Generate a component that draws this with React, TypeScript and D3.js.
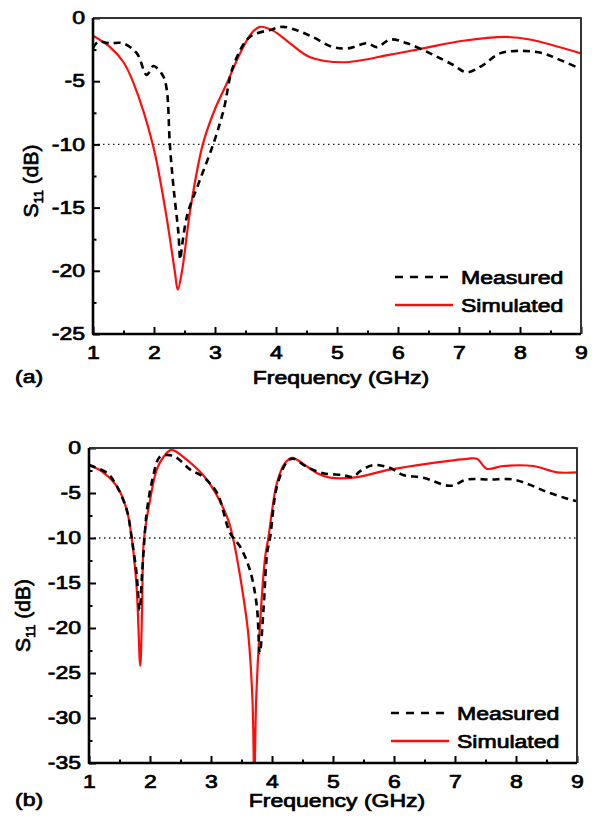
import React, { useEffect, useRef } from 'react';
import * as d3 from 'd3';

// (a) measured / simulated S11 curves
const measFreqA = [1, 1.08, 1.28, 1.49, 1.72, 1.88, 1.99, 2.15, 2.21, 2.26, 2.32, 2.4, 2.43, 2.46, 2.55, 2.73, 2.97, 3.14, 3.3, 3.57, 3.9, 4.11, 4.33, 4.6, 4.93, 5.18, 5.49, 5.66, 5.87, 6.15, 6.57, 6.9, 7.13, 7.4, 7.67, 8.05, 8.38, 8.6, 8.98];
const measDbA = [-2.4, -1.9, -2.0, -2.0, -2.8, -4.5, -3.8, -4.6, -5.7, -10, -13.4, -17, -19.1, -18, -15.5, -13.1, -10, -7.3, -3.8, -1.5, -0.95, -0.7, -0.95, -1.5, -2.3, -2.4, -2.0, -2.3, -1.7, -2.0, -2.9, -3.7, -4.3, -3.7, -2.8, -2.6, -2.8, -3.2, -4.0];
const simFreqA = [1, 1.28, 1.5, 1.66, 1.98, 2.18, 2.34, 2.39, 2.46, 2.6, 2.8, 3.0, 3.2, 3.41, 3.6, 3.74, 3.95, 4.23, 4.56, 5.1, 5.87, 6.41, 7.07, 7.78, 8.16, 9];
const simDbA = [-1.4, -2.3, -3.5, -5.1, -10, -15, -20, -21.5, -20, -15, -10, -7.2, -5.1, -2.8, -1.2, -0.7, -1.0, -2.0, -3.1, -3.5, -2.9, -2.4, -1.8, -1.5, -1.7, -2.8];

// (b)
const measFreqB = [1, 1.3, 1.46, 1.62, 1.7, 1.78, 1.83, 1.87, 1.92, 1.95, 2.05, 2.16, 2.33, 2.44, 2.66, 2.87, 3.1, 3.31, 3.48, 3.64, 3.75, 3.8, 3.86, 3.92, 3.97, 4.08, 4.25, 4.35, 4.57, 4.84, 5.16, 5.33, 5.44, 5.66, 5.93, 6.15, 6.48, 6.92, 7.2, 7.57, 7.95, 8.23, 8.51, 8.93, 9];
const measDbB = [-1.9, -2.8, -4.3, -6.9, -10, -14, -18, -14, -9.1, -6.9, -3.2, -1.0, -0.8, -1.1, -2.4, -3.2, -5, -9.4, -11, -13.6, -17.5, -22.8, -18, -11.7, -9.9, -4.3, -1.5, -1.2, -2.1, -2.8, -3.0, -3.2, -2.6, -1.9, -2.2, -3.0, -3.3, -4.2, -3.5, -3.5, -3.5, -4.1, -4.9, -5.8, -5.9];
const simFreqB = [1, 1.23, 1.46, 1.62, 1.7, 1.78, 1.84, 1.87, 1.9, 2.0, 2.11, 2.22, 2.35, 2.6, 2.93, 3.26, 3.36, 3.53, 3.61, 3.68, 3.71, 3.74, 3.8, 3.89, 3.94, 4.08, 4.21, 4.33, 4.41, 4.74, 4.95, 5.33, 5.93, 6.59, 7.2, 7.36, 7.52, 7.79, 8.28, 8.67, 9];
const simDbB = [-1.9, -2.7, -4.3, -6.9, -10, -15.4, -24.2, -18, -10.2, -5.8, -2.4, -1.0, -0.2, -1.3, -3.5, -7.6, -10, -16.5, -20.6, -28, -37, -28, -19.9, -12, -10, -3.9, -1.7, -1.1, -1.3, -2.8, -3.3, -3.3, -2.4, -1.7, -1.2, -1.2, -2.3, -2.0, -2.0, -2.7, -2.7];

const xTicks = [1, 2, 3, 4, 5, 6, 7, 8, 9];
const yTicksA = [0, -5, -10, -15, -20, -25];
const yTicksB = [0, -5, -10, -15, -20, -25, -30, -35];
const seriesNames = ['Measured', 'Simulated'];
const refLevel = -10;

const FONT = '"Liberation Sans", Arial, sans-serif';
const SX = 1.28; // the source figure's text is stretched sideways

const panels = [
  {
    id: 'a', tag: '(a)', box: [93, 18, 581, 334], yTicks: yTicksA,
    meas: measFreqA.map((f, i) => [f, measDbA[i]]),
    sim: simFreqA.map((f, i) => [f, simDbA[i]]),
    yLabelX: 38, yLabelDy: 5, legendY: 277, titleY: 384, tagY: 383,
  },
  {
    id: 'b', tag: '(b)', box: [89, 448, 577, 763], yTicks: yTicksB,
    meas: measFreqB.map((f, i) => [f, measDbB[i]]),
    sim: simFreqB.map((f, i) => [f, simDbB[i]]),
    yLabelX: 30, yLabelDy: 10, legendY: 713, titleY: 807, tagY: 806,
  },
];

function stretched(sel, x, y) {
  return sel.attr('transform', `translate(${x},${y}) scale(${SX},1)`);
}

function drawPanel(svg, p) {
  const [x0, y0, x1, y1] = p.box;
  const yMin = d3.min(p.yTicks);
  const x = d3.scaleLinear().domain([1, 9]).range([x0, x1]);
  const y = d3.scaleLinear().domain([yMin, 0]).range([y1, y0]);
  // regular face thickened a little, like the blurred source
  const g = svg.append('g').style('font-family', FONT)
    .attr('stroke-linejoin', 'round');

  g.append('clipPath').attr('id', 'clip-' + p.id)
    .append('rect').attr('x', x0).attr('y', y0).attr('width', x1 - x0).attr('height', y1 - y0);

  // -10 dB reference
  g.append('line')
    .attr('x1', x0).attr('x2', x1).attr('y1', y(refLevel)).attr('y2', y(refLevel))
    .attr('stroke', '#222').attr('stroke-width', 1.4).attr('stroke-dasharray', '1.5 3.5');

  // ticks (inward)
  const minorX = d3.range(1.5, 9, 1);
  const minorY = d3.range(yMin + 2.5, 0, 5);
  const bottom = g.append('g').attr('transform', `translate(0,${y1})`);
  bottom.call(d3.axisBottom(x).tickValues(xTicks).tickSizeInner(-7).tickSizeOuter(0).tickPadding(12).tickFormat(d => String(d)));
  bottom.append('g').call(d3.axisBottom(x).tickValues(minorX).tickSize(-3.5).tickFormat(() => ''));
  const left = g.append('g').attr('transform', `translate(${x0},0)`);
  left.call(d3.axisLeft(y).tickValues(p.yTicks).tickSizeInner(-7).tickSizeOuter(0).tickPadding(9).tickFormat(d => String(d)));
  left.append('g').call(d3.axisLeft(y).tickValues(minorY).tickSize(-3.5).tickFormat(() => ''));
  g.selectAll('.domain').remove();
  g.selectAll('.tick line').attr('stroke', '#000').attr('stroke-width', 2);
  g.selectAll('.tick text').attr('fill', '#000').style('font-size', '18px')
    .style('font-family', FONT).attr('stroke', '#000').attr('stroke-width', 0.7);
  bottom.selectAll('.tick text').attr('dy', '0.71em').attr('transform', `scale(${SX},1)`);
  left.selectAll('.tick text').attr('transform', `scale(${SX},1)`).attr('x', -8 / SX);

  // curves
  const line = d3.line().x(d => x(d[0])).y(d => y(d[1])).curve(d3.curveCatmullRom.alpha(0.5));
  const curves = g.append('g').attr('clip-path', `url(#clip-${p.id})`);
  curves.append('path').datum(p.sim).attr('d', line)
    .attr('fill', 'none').attr('stroke', '#ff0d0d').attr('stroke-width', 2.2);
  curves.append('path').datum(p.meas).attr('d', line)
    .attr('fill', 'none').attr('stroke', '#000').attr('stroke-width', 2.6).attr('stroke-dasharray', '7 5');

  // frame
  g.append('path').attr('d', `M${x0},${y0}H${x1}V${y1}`).attr('fill', 'none')
    .attr('stroke', '#333').attr('stroke-width', 2);
  g.append('path').attr('d', `M${x0},${y0}V${y1}H${x1}`).attr('fill', 'none')
    .attr('stroke', '#000').attr('stroke-width', 2.6);

  const label = (sel) => sel.attr('font-size', 18).attr('fill', '#000')
    .attr('stroke', '#000').attr('stroke-width', 0.7);

  // legend
  seriesNames.forEach((name, i) => {
    const ly = p.legendY + i * 28;
    g.append('line').attr('x1', x1 - 186).attr('x2', x1 - 128).attr('y1', ly).attr('y2', ly)
      .attr('stroke', i === 0 ? '#000' : '#ff0d0d').attr('stroke-width', 2.4)
      .attr('stroke-dasharray', i === 0 ? '8 7' : null);
    label(stretched(g.append('text'), x1 - 120, ly + 7)).text(name);
  });

  // axis titles
  label(stretched(g.append('text'), (x0 + x1) / 2 + 4, p.titleY))
    .attr('text-anchor', 'middle').text('Frequency (GHz)');
  label(stretched(g.append('text'), 15, p.tagY)).text(p.tag);

  const yl = label(g.append('text'))
    .attr('transform', `translate(${p.yLabelX},${(y0 + y1) / 2 + p.yLabelDy}) rotate(-90)`)
    .attr('text-anchor', 'middle').attr('font-size', 21);
  yl.append('tspan').text('S');
  yl.append('tspan').attr('font-size', 13).attr('dy', 5).text('11');
  yl.append('tspan').attr('dy', -5).text(' (dB)');
}

const App = () => {
  const ref = useRef(null);

  useEffect(() => {
    const svg = d3.select(ref.current);
    svg.selectAll('*').remove();
    panels.forEach(p => drawPanel(svg, p));
  }, []);

  return (
    <svg ref={ref} width={592} height={816}
      style={{ position: 'absolute', left: 0, top: 0, background: '#fff' }} />
  );
};

export default App;
